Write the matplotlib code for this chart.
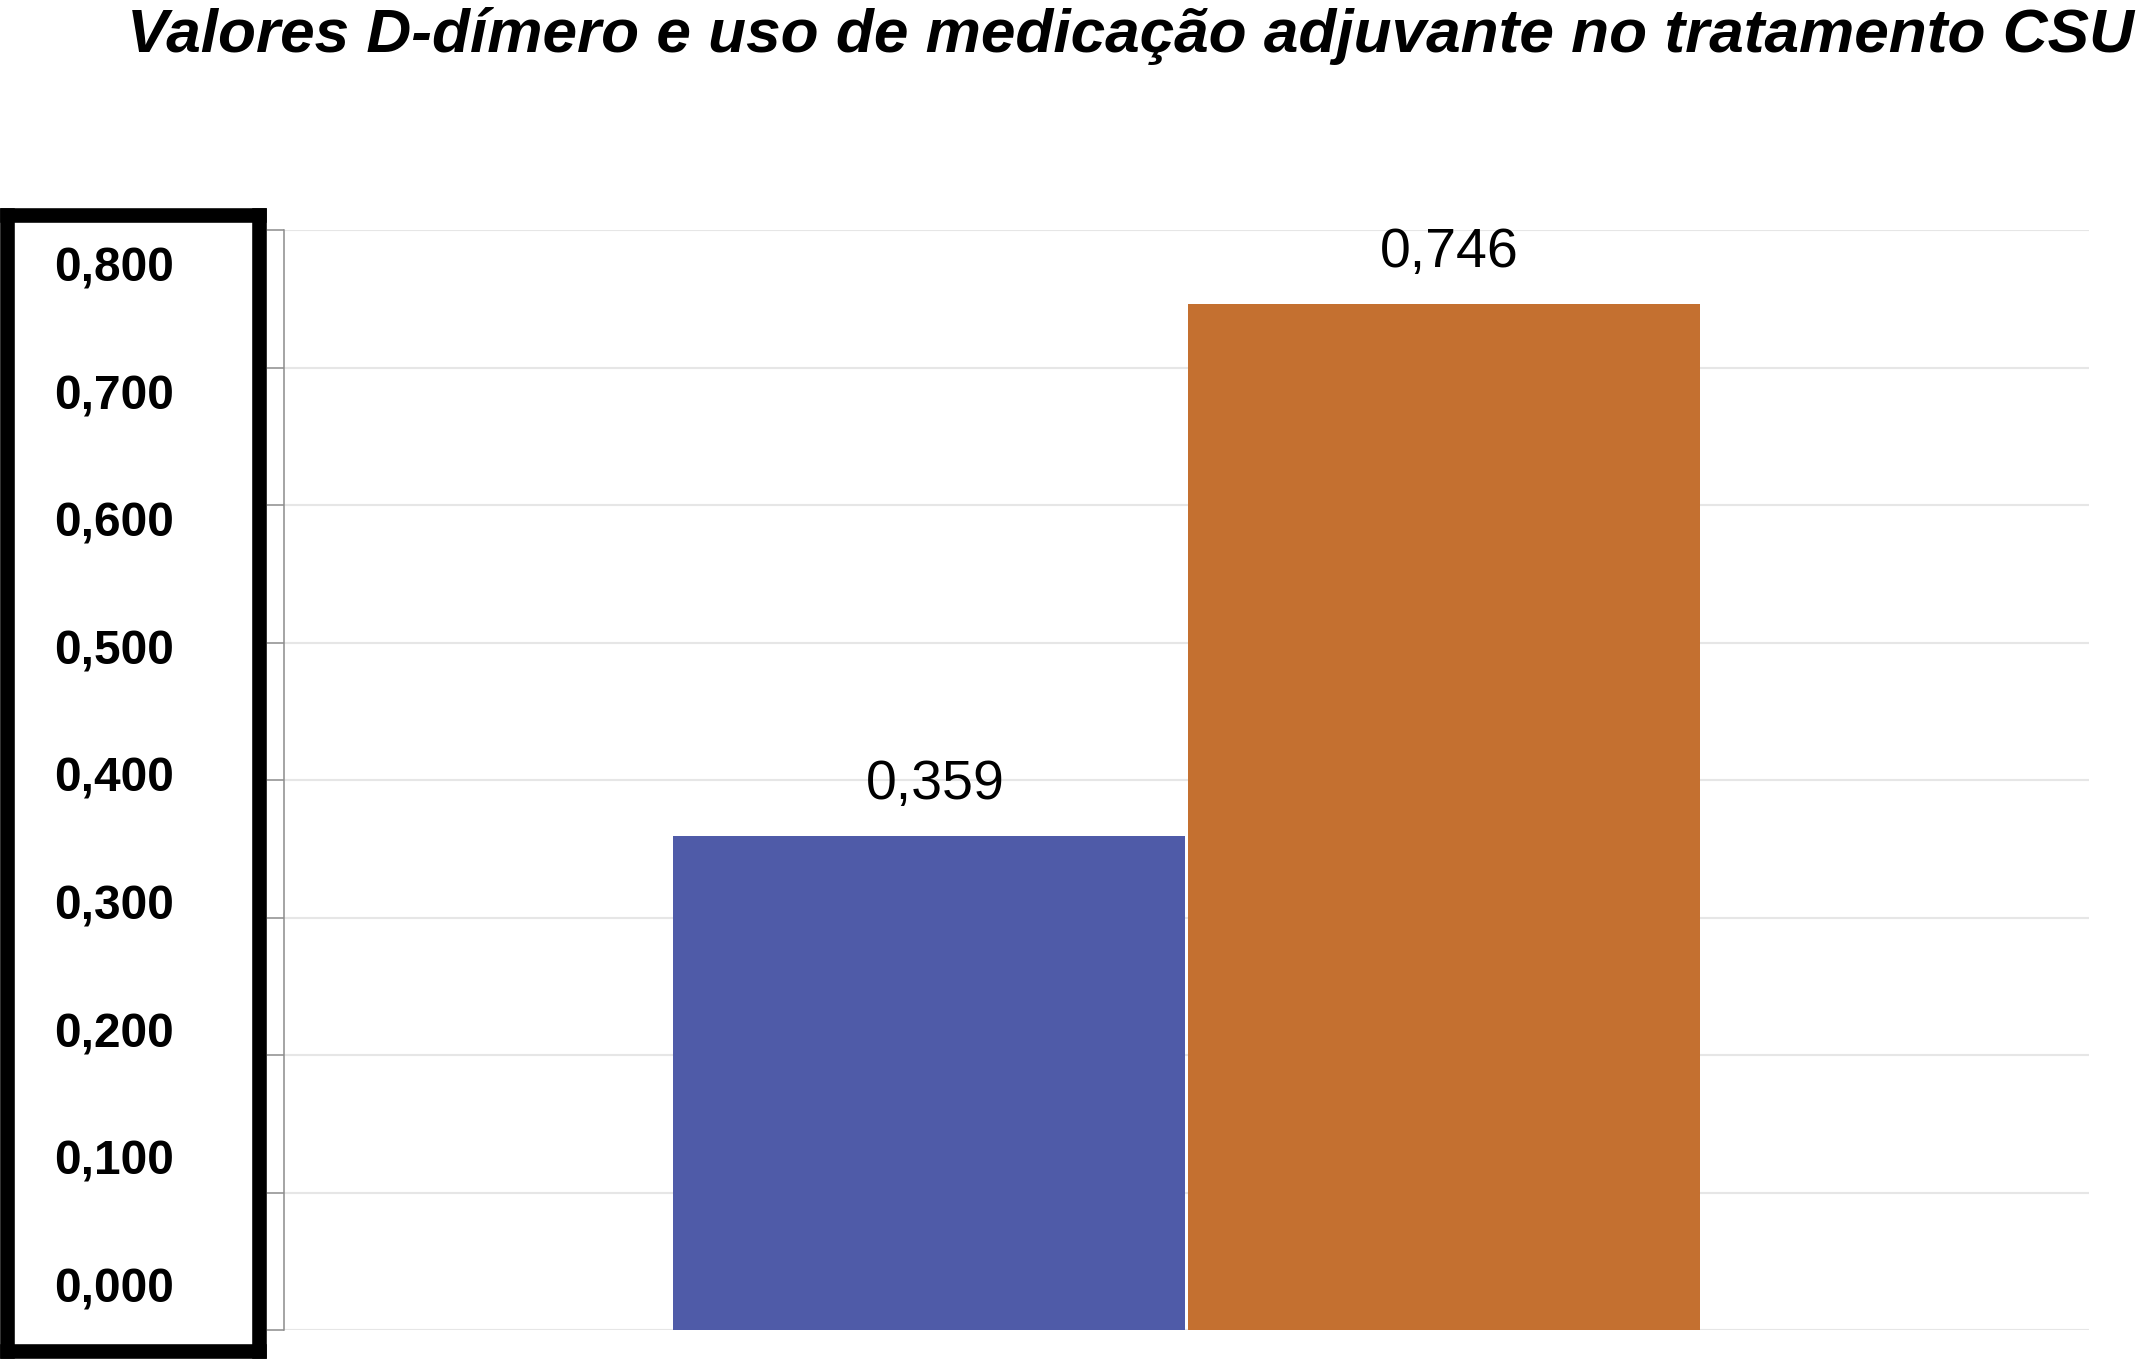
import matplotlib as mpl
mpl.use('Agg')
import matplotlib.pyplot as plt

# data
groups = ['Sem medicação adjuvante', 'Com medicação adjuvante']
d_dimer = [0.359, 0.746]
bar_colors = ['#4F5BA8', '#C47030']
y_ticks = [0.0, 0.1, 0.2, 0.3, 0.4, 0.5, 0.6, 0.7, 0.8]
title = 'Valores D-dímero e uso de medicação adjuvante no tratamento CSU'

W, H = 2141, 1369


def fmt(v):
    return f'{v:.3f}'.replace('.', ',')


plt.rcParams['font.family'] = ['Liberation Sans', 'DejaVu Sans']

fig = plt.figure(figsize=(W / 100, H / 100), dpi=100)

# main plot area
ax = fig.add_axes([284 / W, (H - 1330) / H, (2089 - 284) / W, (1330 - 230) / H])
x = list(range(len(d_dimer)))
ax.bar(x, d_dimer, width=0.996, color=bar_colors, zorder=3)
ax.set_xlim(-1.255, 2.255)
ax.set_ylim(0, 0.8)
ax.set_yticks(y_ticks)
ax.set_yticklabels([])
ax.set_xticks([])
ax.grid(axis='y', color='#e6e6e6', linewidth=1.5, zorder=0)
for side in ['top', 'right', 'bottom']:
    ax.spines[side].set_visible(False)
ax.spines['left'].set_color('#8c8c8c')
ax.spines['left'].set_linewidth(1.1)
ax.tick_params(axis='y', length=12, width=1.1, color='#8c8c8c', direction='out')

for xi, v in zip(x, d_dimer):
    ax.annotate(fmt(v), (xi, v), xytext=(4, 37), textcoords='offset points',
                ha='center', va='center', fontsize=40, color='black')

# boxed tick labels on the left
box = fig.add_axes([7 / W, (H - 1351) / H, (259 - 7) / W, (1351 - 215) / H])
box.set_xlim(0, 1)
box.set_ylim(-0.0384, 0.8525)
box.set_xticks([])
box.set_yticks([])
for s in box.spines.values():
    s.set_linewidth(10.5)
    s.set_color('black')
for t in y_ticks:
    box.text(0.425, t, fmt(t), ha='center', va='baseline',
             fontsize=34.5, fontweight='bold', color='black')

fig.text(127 / W, 1 - 52 / H, title, ha='left', va='baseline',
         fontsize=44.7, fontweight='bold', fontstyle='italic')

fig.savefig('out.png', dpi=100)
plt.close(fig)
